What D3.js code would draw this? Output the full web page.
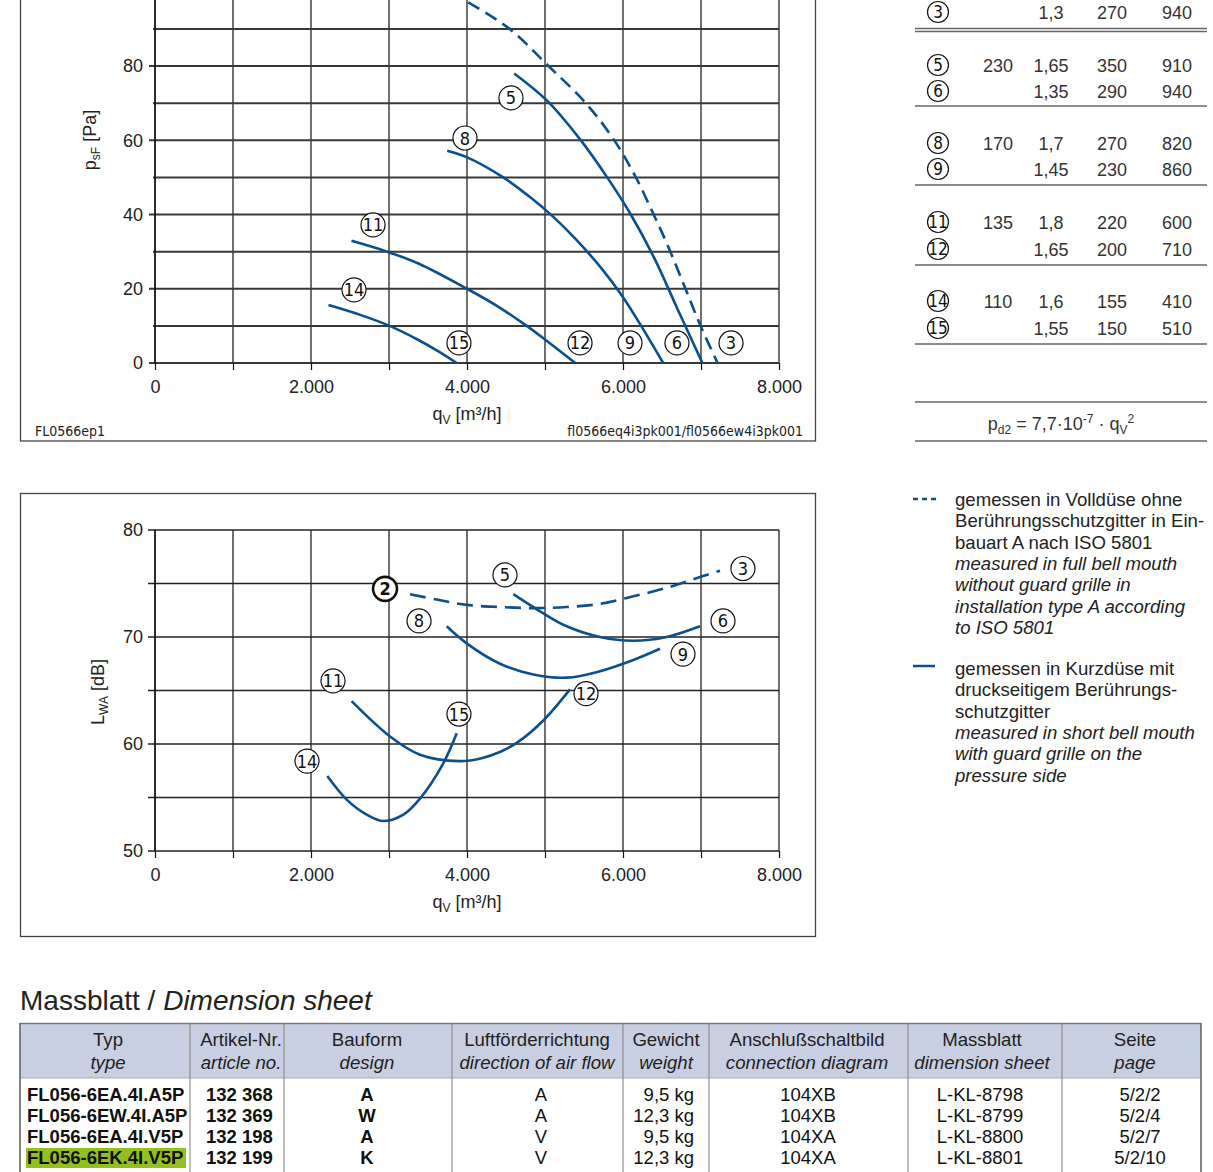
<!DOCTYPE html>
<html><head><meta charset="utf-8">
<script src="https://cdn.jsdelivr.net/npm/d3@7"></script>
<style>
body{margin:0;background:#fff}
svg{display:block;font-family:"Liberation Sans",Arial,sans-serif}
</style></head>
<body><svg id="c" width="1213" height="1172"></svg>
<script>
// ---------------- DATA ----------------
const flowTicks = [0, 2000, 4000, 6000, 8000];
const pressureTicks = [0, 20, 40, 60, 80];
const soundTicks = [50, 60, 70, 80];

// pressure curves  [q_V m3/h, p_sF Pa]
const pCurve3 = [[3800,100],[3967,97.8],[4551,89.9],[5054,79.8],[5523,70.0],[5891,59.9],[6160,50.2],[6395,39.9],[6562,32.2],[6797,20.2],[6998,9.8],[7213,0]];
const pCurve5to6 = [[4604,78.0],[5020,70.8],[5455,60.1],[5791,50.2],[6100,40.0],[6400,28.3],[6700,14.5],[7018,0]];
const pCurve8to9 = [[3746,57.2],[3981,55.6],[4450,50.2],[4819,44.5],[5100,39.5],[5388,33.5],[5724,25.5],[5992,18.0],[6227,10.2],[6515,0]];
const pCurve11to12 = [[2519,32.9],[2974,30.0],[3377,26.8],[4000,20.0],[4383,15.4],[4752,10.2],[5020,6.0],[5388,0]];
const pCurve14to15 = [[2224,15.6],[2640,12.9],[3008,10.0],[3377,6.2],[3645,3.0],[3867,0]];

// sound power curves [q_V m3/h, L_WA dB]
const sCurve2to3 = [[3269,74.0],[3611,73.5],[3996,73.0],[4423,72.8],[4850,72.7],[5278,72.8],[5705,73.1],[6132,73.8],[6560,74.6],[6987,75.6],[7244,76.2]];
const sCurve5to6 = [[4594,74.0],[4936,72.4],[5278,71.0],[5705,70.0],[6132,69.65],[6560,70.0],[6987,71.0]];
const sCurve8to9 = [[3740,71.0],[3996,69.4],[4423,67.5],[4850,66.5],[5278,66.2],[5705,66.8],[6132,67.85],[6474,68.9]];
const sCurve11to12 = [[2521,64.0],[3013,60.7],[3397,59.0],[3900,58.4],[4200,58.7],[4420,59.25],[4637,60.1],[4979,62.2],[5320,65.1]];
const sCurve14to15 = [[2209,57.0],[2457,54.8],[2714,53.4],[2927,52.8],[3184,53.4],[3397,54.9],[3696,58.2],[3868,61.0]];

// circled labels [id, q_V, value]
const pressureLabels = [["5",4564,71.4],["8",3974,60.6],["11",2795,37.2],["14",2551,19.7],["15",3897,5.4],["12",5449,5.4],["9",6090,5.4],["6",6692,5.4],["3",7385,5.4]];
const soundLabels = [["2",2949,74.5],["3",7538,76.4],["5",4487,75.8],["6",7282,71.5],["8",3385,71.5],["9",6769,68.4],["11",2282,65.9],["12",5526,64.7],["14",1949,58.4],["15",3897,62.8]];

// operating point table
const opPoint   = ["3","5","6","8","9","11","12","14","15"];
const opVoltage = ["","230","","170","","135","","110",""];
const opCurrent = ["1,3","1,65","1,35","1,7","1,45","1,8","1,65","1,6","1,55"];
const opPower   = ["270","350","290","270","230","220","200","155","150"];
const opSpeed   = ["940","910","940","820","860","600","710","410","510"];

const legendDashed = ["gemessen in Volldüse ohne","Berührungsschutzgitter in Ein-","bauart A nach ISO 5801"];
const legendDashedEn = ["measured in full bell mouth","without guard grille in","installation type A according","to ISO 5801"];
const legendSolid = ["gemessen in Kurzdüse mit","druckseitigem Berührungs-","schutzgitter"];
const legendSolidEn = ["measured in short bell mouth","with guard grille on the","pressure side"];

// dimension sheet table
const headDe = ["Typ","Artikel-Nr.","Bauform","Luftförderrichtung","Gewicht","Anschlußschaltbild","Massblatt","Seite"];
const headEn = ["type","article no.","design","direction of air flow","weight","connection diagram","dimension sheet","page"];
const types = ["FL056-6EA.4I.A5P","FL056-6EW.4I.A5P","FL056-6EA.4I.V5P","FL056-6EK.4I.V5P"];
const articleNos = ["132 368","132 369","132 198","132 199"];
const designs = ["A","W","A","K"];
const airFlow = ["A","A","V","V"];
const weights = ["9,5 kg","12,3 kg","9,5 kg","12,3 kg"];
const connections = ["104XB","104XB","104XA","104XA"];
const dimSheets = ["L-KL-8798","L-KL-8799","L-KL-8800","L-KL-8801"];
const pages = ["5/2/2","5/2/4","5/2/7","5/2/10"];
const highlightedType = "FL056-6EK.4I.V5P";

// ---------------- DRAW ----------------
const svg = d3.select("#c");
const BLUE = "#0c4f8d";
const TXT = "#222";
const NARROW = "'Liberation Sans Narrow','DejaVu Sans Condensed',Arial,sans-serif";
const loc = d3.formatLocale({decimal:",", thousands:".", grouping:[3], currency:["",""]});
const fmtFlow = loc.format(",d");

function circled(g, x, y, t, r, fs, bold){
  const gg = g.append("g").attr("transform",`translate(${x},${y})`);
  gg.append("circle").attr("r",r).attr("fill","#fff").attr("stroke","#111").attr("stroke-width",bold?2.6:1.2);
  gg.append("text").attr("text-anchor","middle").attr("dy","0.36em")
    .attr("font-size",fs).attr("font-family",NARROW).attr("font-weight",bold?"bold":"normal")
    .attr("fill","#111").text(t);
}
function subLabel(g, parts){
  const t = g.append("text").attr("fill",TXT).attr("font-size",18);
  let prev=false;
  parts.forEach(([s,sub])=>{
    const sp = t.append("tspan").text(s);
    if(sub){sp.attr("font-size",12).attr("dy",prev?0:4);}
    else{sp.attr("dy",prev?-4:0);}
    prev=sub;
  });
  return t;
}
const line = (x,y)=>d3.line().x(d=>x(d[0])).y(d=>y(d[1])).curve(d3.curveCatmullRom.alpha(0.5));

// ======= TOP CHART (pressure) =======
svg.append("rect").attr("x",20.5).attr("y",-30).attr("width",795).attr("height",471)
  .attr("fill","none").attr("stroke","#444").attr("stroke-width",1.3);
const xT = d3.scaleLinear().domain([0,8000]).range([155,779]);
const yT = d3.scaleLinear().domain([0,100]).range([363,-8.25]);
const gT = svg.append("g");
gT.selectAll(".vg").data(d3.range(0,8001,1000)).join("line")
  .attr("x1",d=>xT(d)).attr("x2",d=>xT(d)).attr("y1",yT(100)).attr("y2",yT(0))
  .attr("stroke","#111").attr("stroke-width",1.2);
gT.selectAll(".hg").data(d3.range(0,101,10)).join("line")
  .attr("x1",d=>d%20===0?149:153).attr("x2",xT(8000)).attr("y1",d=>yT(d)).attr("y2",d=>yT(d))
  .attr("stroke","#383838").attr("stroke-width",2);
const axL = gT.append("g").attr("transform",`translate(${xT(0)},0)`)
  .call(d3.axisLeft(yT).tickValues(pressureTicks).tickSize(0).tickPadding(12).tickFormat(d3.format("d")));
const axB = gT.append("g").attr("transform",`translate(0,${yT(0)})`)
  .call(d3.axisBottom(xT).tickValues(d3.range(0,8001,1000)).tickSize(7).tickPadding(10).tickFormat(d=>flowTicks.includes(d)?fmtFlow(d):""));
[axL,axB].forEach(a=>{a.select(".domain").remove();a.selectAll("text").attr("font-size",18).attr("fill",TXT).attr("font-family","'Liberation Sans',Arial,sans-serif");a.selectAll("line").attr("stroke","#111").attr("stroke-width",1.2);});
gT.append("line").attr("x1",xT(0)).attr("x2",xT(0)).attr("y1",yT(100)).attr("y2",yT(0)).attr("stroke","#111").attr("stroke-width",1.4);
const lT = line(xT,yT);
gT.append("path").attr("d",lT(pCurve3)).attr("fill","none").attr("stroke",BLUE).attr("stroke-width",2.6).attr("stroke-dasharray","13,7");
[pCurve5to6,pCurve8to9,pCurve11to12,pCurve14to15].forEach(c=>
  gT.append("path").attr("d",lT(c)).attr("fill","none").attr("stroke",BLUE).attr("stroke-width",2.6));
pressureLabels.forEach(([t,q,v])=>circled(gT,xT(q),yT(v),t,12,18,false));
const ytT = subLabel(gT,[["p",false],["sF",true],[" [Pa]",false]]);
ytT.attr("text-anchor","middle").attr("transform","translate(96,140) rotate(-90)");
const xtT = subLabel(gT,[["q",false],["V",true],[" [m³/h]",false]]);
xtT.attr("text-anchor","middle").attr("x",467).attr("y",420);
gT.append("text").attr("x",35).attr("y",436).attr("font-size",14).attr("font-family",NARROW).attr("fill",TXT).text("FL0566ep1");
gT.append("text").attr("x",803).attr("y",436).attr("text-anchor","end").attr("font-size",14).attr("font-family",NARROW).attr("fill",TXT).text("fl0566eq4i3pk001/fl0566ew4i3pk001");

// ======= BOTTOM CHART (sound) =======
svg.append("rect").attr("x",20.5).attr("y",493.5).attr("width",795).attr("height",443)
  .attr("fill","none").attr("stroke","#444").attr("stroke-width",1.3);
const xB = d3.scaleLinear().domain([0,8000]).range([155,779]);
const yB = d3.scaleLinear().domain([50,80]).range([851,530]);
const gB = svg.append("g");
gB.selectAll(".vg").data(d3.range(0,8001,1000)).join("line")
  .attr("x1",d=>xB(d)).attr("x2",d=>xB(d)).attr("y1",yB(80)).attr("y2",yB(50))
  .attr("stroke","#111").attr("stroke-width",1.2);
gB.selectAll(".hg").data(d3.range(50,81,5)).join("line")
  .attr("x1",148).attr("x2",xB(8000)).attr("y1",d=>yB(d)).attr("y2",d=>yB(d))
  .attr("stroke","#222").attr("stroke-width",1.6);
const bxL = gB.append("g").attr("transform",`translate(${xB(0)},0)`)
  .call(d3.axisLeft(yB).tickValues(soundTicks).tickSize(0).tickPadding(12).tickFormat(d3.format("d")));
const bxB = gB.append("g").attr("transform",`translate(0,${yB(50)})`)
  .call(d3.axisBottom(xB).tickValues(d3.range(0,8001,1000)).tickSize(7).tickPadding(10).tickFormat(d=>flowTicks.includes(d)?fmtFlow(d):""));
[bxL,bxB].forEach(a=>{a.select(".domain").remove();a.selectAll("text").attr("font-size",18).attr("fill",TXT).attr("font-family","'Liberation Sans',Arial,sans-serif");a.selectAll("line").attr("stroke","#111").attr("stroke-width",1.2);});
gB.append("line").attr("x1",xB(0)).attr("x2",xB(0)).attr("y1",yB(80)).attr("y2",yB(50)).attr("stroke","#111").attr("stroke-width",1.4);
const lB = line(xB,yB);
gB.append("path").attr("d",lB(sCurve2to3)).attr("fill","none").attr("stroke",BLUE).attr("stroke-width",2.6).attr("stroke-dasharray","16,8");
[sCurve5to6,sCurve8to9,sCurve11to12,sCurve14to15].forEach(c=>
  gB.append("path").attr("d",lB(c)).attr("fill","none").attr("stroke",BLUE).attr("stroke-width",2.6));
soundLabels.forEach(([t,q,v])=>circled(gB,xB(q),yB(v),t,12,18,t==="2"));
const ytB = subLabel(gB,[["L",false],["WA",true],[" [dB]",false]]);
ytB.attr("text-anchor","middle").attr("transform","translate(104,692) rotate(-90)");
const xtB = subLabel(gB,[["q",false],["V",true],[" [m³/h]",false]]);
xtB.attr("text-anchor","middle").attr("x",467).attr("y",908);

// ======= OPERATING POINT TABLE (right) =======
const gR = svg.append("g").attr("font-size",18).attr("fill","#333");
const rowY = [12, 65, 91, 143, 169, 222, 249, 301, 328];
const colX = [938, 998, 1051, 1112, 1177];
opPoint.forEach((p,i)=>{
  circled(gR,colX[0],rowY[i],p,10.5,17,false);
  [opVoltage[i],opCurrent[i],opPower[i],opSpeed[i]].forEach((v,j)=>{
    gR.append("text").attr("x",colX[j+1]).attr("y",rowY[i]+6.5).attr("text-anchor","middle").attr("fill","#333").text(v);
  });
});
[28.5,31.5,106,185,265,344,402,441].forEach(y=>
  gR.append("line").attr("x1",915).attr("x2",1207).attr("y1",y).attr("y2",y).attr("stroke","#666").attr("stroke-width",1.3));
const f = gR.append("text").attr("x",1061).attr("y",430).attr("text-anchor","middle").attr("fill","#333");
f.append("tspan").text("p");
f.append("tspan").attr("font-size",12).attr("dy",4).text("d2");
f.append("tspan").attr("dy",-4).text(" = 7,7·10");
f.append("tspan").attr("font-size",12).attr("dy",-7).text("-7");
f.append("tspan").attr("dy",7).text(" · q");
f.append("tspan").attr("font-size",12).attr("dy",4).text("V");
f.append("tspan").attr("font-size",12).attr("dy",-11).text("2");

// ======= LEGEND =======
const gL = svg.append("g").attr("font-size",18.6).attr("fill",TXT);
gL.append("line").attr("x1",913).attr("x2",937).attr("y1",499).attr("y2",499).attr("stroke",BLUE).attr("stroke-width",2.5).attr("stroke-dasharray","5,4");
gL.append("line").attr("x1",913).attr("x2",935).attr("y1",666).attr("y2",666).attr("stroke",BLUE).attr("stroke-width",2.5);
function legendBlock(y0, de, en){
  de.concat(en).forEach((s,i)=>{
    gL.append("text").attr("x",955).attr("y",y0+i*21.3).attr("fill",TXT)
      .attr("font-style",i>=de.length?"italic":"normal").text(s);
  });
}
legendBlock(506, legendDashed, legendDashedEn);
legendBlock(675, legendSolid, legendSolidEn);

// ======= DIMENSION SHEET =======
const gD = svg.append("g");
const title = gD.append("text").attr("x",20).attr("y",1010).attr("font-size",28).attr("fill",TXT);
title.append("tspan").text("Massblatt / ");
title.append("tspan").attr("font-style","italic").text("Dimension sheet");
const colEdges = [20,190,284,452,623,709,908,1062,1201];
gD.append("rect").attr("x",20).attr("y",1023).attr("width",1181).attr("height",55).attr("fill","#c9cfe3");
gD.append("line").attr("x1",20).attr("x2",1201).attr("y1",1023.5).attr("y2",1023.5).attr("stroke","#777").attr("stroke-width",1.4);
gD.append("line").attr("x1",20).attr("x2",1201).attr("y1",1078).attr("y2",1078).attr("stroke","#aab").attr("stroke-width",1);
colEdges.forEach((x,i)=>gD.append("line").attr("x1",x).attr("x2",x).attr("y1",1023).attr("y2",1172)
  .attr("stroke",(i===0||i===colEdges.length-1)?"#666":"#888").attr("stroke-width",(i===0||i===colEdges.length-1)?1.6:1.1));
const headCx = [108,241,367,537,666,807,982,1135];
headDe.forEach((h,i)=>{
  gD.append("text").attr("x",headCx[i]).attr("y",1046).attr("text-anchor","middle").attr("font-size",18.6).attr("fill",TXT).text(h);
  gD.append("text").attr("x",headCx[i]).attr("y",1069).attr("text-anchor","middle").attr("font-size",18.6).attr("font-style","italic").attr("fill",TXT).text(headEn[i]);
});
const dataY = [1101,1122,1143,1164];
types.forEach((t,i)=>{
  if(t===highlightedType){
    gD.append("rect").attr("x",26).attr("y",dataY[i]-16).attr("width",160).attr("height",20).attr("fill","#93c01f");
  }
  const cells = [
    [t,27,"start","bold"],[articleNos[i],206,"start","bold"],[designs[i],367,"middle","bold"],
    [airFlow[i],541,"middle","normal"],[weights[i],694,"end","normal"],[connections[i],808,"middle","normal"],
    [dimSheets[i],980,"middle","normal"],[pages[i],1140,"middle","normal"]];
  cells.forEach(([s,x,a,w])=>gD.append("text").attr("x",x).attr("y",dataY[i]).attr("text-anchor",a)
    .attr("font-weight",w).attr("font-size",18.5).attr("fill","#111").text(s));
});
</script></body></html>
